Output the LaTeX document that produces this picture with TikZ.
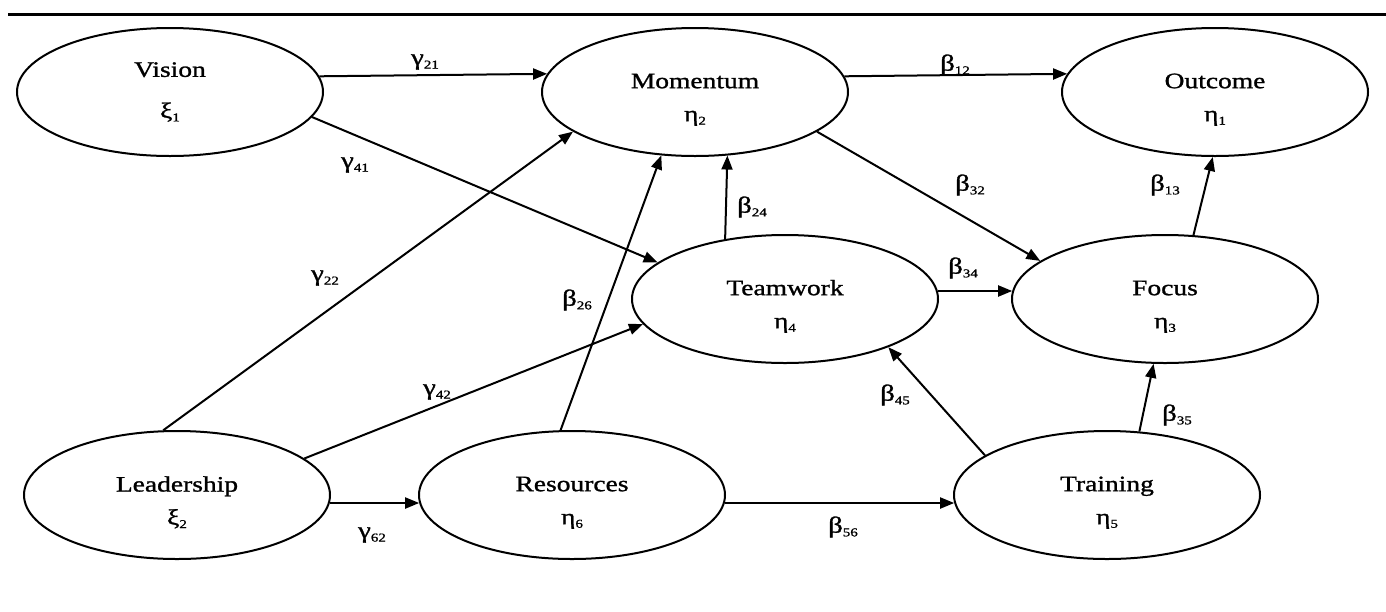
\documentclass[tikz,border=0pt]{standalone}
\usepackage{fontspec}
\setmainfont{Liberation Serif}[FakeStretch=1.25,FakeBold=1.2]
\usetikzlibrary{shapes.geometric,arrows.meta}
\newcommand{\sbs}[1]{\raisebox{-0.35ex}{\fontsize{12}{12}\selectfont #1}}
\newcommand{\tup}{\rule{0pt}{30pt}}
\begin{document}
\begin{tikzpicture}[x=1pt,y=-1pt,
  ell/.style={ellipse, draw, line width=2pt, minimum width=306pt, minimum height=128pt,
    inner sep=0pt, align=center, font=\fontsize{22}{33}\selectfont},
  arr/.style={line width=2pt, -{Triangle[length=14pt,width=11pt]}},
  lab/.style={inner sep=0pt, font=\fontsize{23}{23}\selectfont}]
\useasboundingbox (0,0) rectangle (1386,611);
\draw[line width=3pt] (8,14) -- (1386,14);
% nodes
\node[ell] (vis)  at (170,92)  {Vision\\[8pt]ξ\sbs{1}};
\node[ell] (mom)  at (695,92)  {\tup Momentum\\η\sbs{2}};
\node[ell] (out)  at (1215,92) {\tup Outcome\\η\sbs{1}};
\node[ell] (tw)   at (785,299) {\tup Teamwork\\η\sbs{4}};
\node[ell] (fo)   at (1165,299){\tup Focus\\η\sbs{3}};
\node[ell] (lead) at (177,495) {\tup Leadership\\ξ\sbs{2}};
\node[ell] (res)  at (572,495) {\tup Resources\\η\sbs{6}};
\node[ell] (tr)   at (1107,495){\tup Training\\η\sbs{5}};
% connectors
\draw[arr] (vis.6.2) -- (mom.173.8);
\draw[arr] (vis.-10) -- (tw.164);
\draw[arr] (mom.6.2) -- (out.173.8);
\draw[arr] (mom.-18) -- (fo.163.5);
\draw[arr] (lead.102) -- (mom.198);
\draw[arr] (lead.16) -- (tw.190.7);
\draw[arr] (res.100.6) -- (mom.-118.7);
\draw[arr] (tw.135) -- (mom.-63.3);
\draw[arr] (tw.3) -- (fo.177);
\draw[arr] (fo.66) -- (out.-92);
\draw[arr] (tr.162) -- (tw.-25.7);
\draw[arr] (tr.63.7) -- (fo.-100.6);
\draw[arr] (lead.-3.4) -- (res.183.4);
\draw[arr] (res.-3.4) -- (tr.183.4);
% labels
\node[lab] (g21) at (425,62)  {γ\sbs{21}};
\node[lab] (g41) at (355,165) {γ\sbs{41}};
\node[lab] (b12) at (955,65)  {β\sbs{12}};
\node[lab] (b32) at (970,185) {β\sbs{32}};
\node[lab] (g22) at (325,278) {γ\sbs{22}};
\node[lab] (g42) at (437,392) {γ\sbs{42}};
\node[lab] (b26) at (577,300) {β\sbs{26}};
\node[lab] (b24) at (752,207) {β\sbs{24}};
\node[lab] (b34) at (963,268) {β\sbs{34}};
\node[lab] (b13) at (1165,185){β\sbs{13}};
\node[lab] (b45) at (895,395) {β\sbs{45}};
\node[lab] (b35) at (1177,415){β\sbs{35}};
\node[lab] (g62) at (372,535) {γ\sbs{62}};
\node[lab] (b56) at (843,527) {β\sbs{56}};
\end{tikzpicture}
\end{document}
